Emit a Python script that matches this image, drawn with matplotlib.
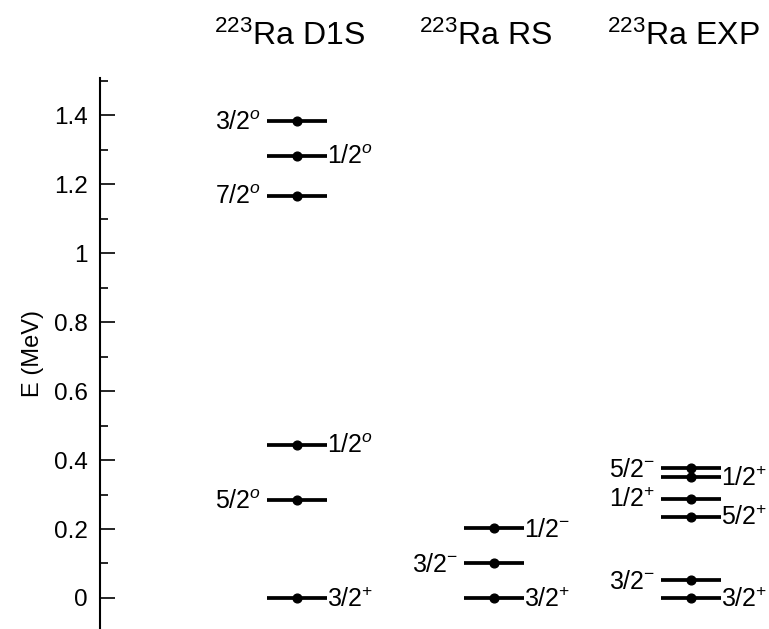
import matplotlib
matplotlib.use('Agg')
import matplotlib.pyplot as plt

plt.rcParams['font.family'] = 'Liberation Sans'
plt.rcParams['mathtext.fontset'] = 'custom'
plt.rcParams['mathtext.rm'] = 'Liberation Sans'
plt.rcParams['mathtext.it'] = 'Liberation Sans:italic'

# level energies (MeV) and spin/parity labels
columns = ['$^{223}$Ra D1S', '$^{223}$Ra RS', '$^{223}$Ra EXP']

d1s_energy = [0.0, 0.284, 0.445, 1.167, 1.283, 1.382]
d1s_spin = ['3/2^{+}', '5/2^{o}', '1/2^{o}', '7/2^{o}', '1/2^{o}', '3/2^{o}']

rs_energy = [0.0, 0.100, 0.203]
rs_spin = ['3/2^{+}', '3/2^{-}', '1/2^{-}']

exp_energy = [0.0, 0.052, 0.236, 0.288, 0.351, 0.376]
exp_spin = ['3/2^{+}', '3/2^{-}', '5/2^{+}', '1/2^{+}', '1/2^{+}', '5/2^{-}']

yticks = [0, 0.2, 0.4, 0.6, 0.8, 1.0, 1.2, 1.4]
ytick_labels = ['0', '0.2', '0.4', '0.6', '0.8', '1', '1.2', '1.4']

# which side the label sits on (l / r)
sides = [
    ['r', 'l', 'r', 'l', 'r', 'l'],
    ['r', 'l', 'r'],
    ['r', 'l', 'r', 'l', 'r', 'l'],
]

fig = plt.figure(figsize=(7.69, 6.29), dpi=100)
ax = fig.add_axes([100 / 769, 0, 1 - 100 / 769, 551 / 629])
ax.set_xlim(0.0, 3.396)
ax.set_ylim(-0.09, 1.508)

for s in ['top', 'right', 'bottom']:
    ax.spines[s].set_visible(False)
ax.spines['left'].set_linewidth(1.5)
ax.set_xticks([])
ax.set_yticks(yticks)
ax.set_yticklabels(ytick_labels, fontsize=17.5)
ax.set_yticks([0.1, 0.3, 0.5, 0.7, 0.9, 1.1, 1.3, 1.5], minor=True)
ax.tick_params(axis='y', which='major', direction='in', length=11, width=1.2, pad=9)
ax.tick_params(axis='y', which='minor', direction='in', length=5.5, width=1.2)
ax.set_ylabel('E (MeV)', fontsize=17, labelpad=7)

half = 0.15
data = [(d1s_energy, d1s_spin), (rs_energy, rs_spin), (exp_energy, exp_spin)]
for i, (energy, spin) in enumerate(data):
    x = i + 1
    ax.hlines(energy, x - half, x + half, color='black', lw=2.7, clip_on=False)
    ax.plot([x] * len(energy), energy, 'o', color='black', ms=6.3, clip_on=False)
    for e, lab, side in zip(energy, spin, sides[i]):
        if side == 'l':
            ax.annotate('$' + lab + '$', (x - half, e), xytext=(-4.3, -6.2),
                        textcoords='offset points', ha='right', va='baseline', fontsize=18)
        else:
            ax.annotate('$' + lab + '$', (x + half, e), xytext=(0.5, -6.2),
                        textcoords='offset points', ha='left', va='baseline', fontsize=18)
    ax.text(x - 0.04, 1.06, columns[i], transform=ax.get_xaxis_transform(),
            ha='center', va='baseline', fontsize=23)

plt.savefig('out.png', dpi=100)
